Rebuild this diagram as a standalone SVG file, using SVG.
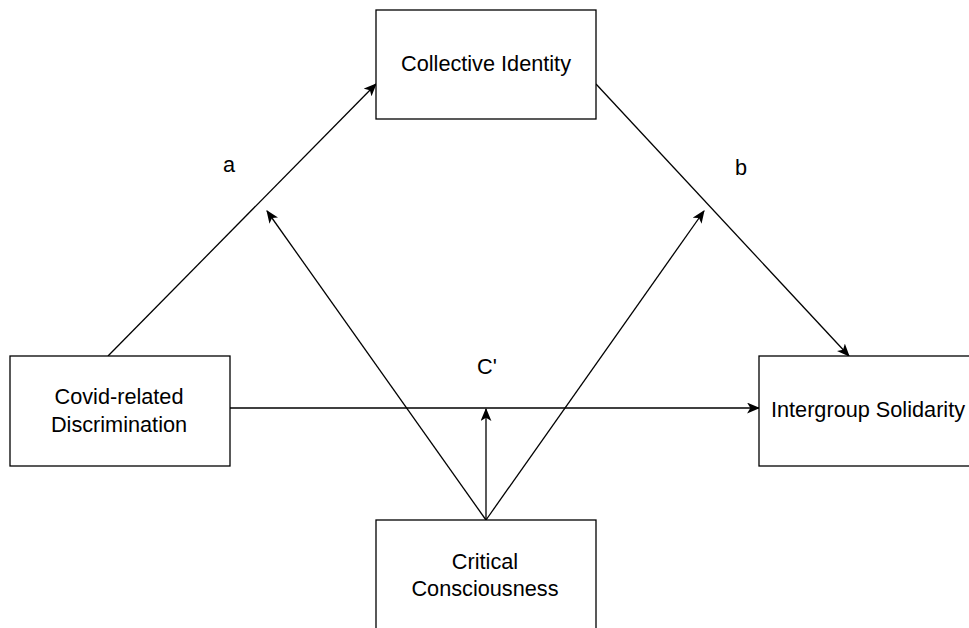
<svg xmlns="http://www.w3.org/2000/svg" width="969" height="628" viewBox="0 0 969 628">
<style>
.box{fill:#fff;stroke:#000;stroke-width:1.3}
.t{font-family:"Liberation Sans",Arial,sans-serif;font-size:21.7px;fill:#000;text-anchor:middle}
.c{stroke:#000;stroke-width:1.3;fill:none;marker-end:url(#ah)}
</style>
<defs>
<marker id="ah" viewBox="0 0 12 10" refX="11" refY="5" markerWidth="13" markerHeight="11" markerUnits="userSpaceOnUse" orient="auto">
<path d="M0,0 L12,5 L0,10 L3,5 Z" fill="#000"/>
</marker>
</defs>
<rect width="969" height="628" fill="#fff"/>
<g id="connectors">
<line class="c" x1="108" y1="356" x2="376" y2="84"/>
<line class="c" x1="596" y1="84" x2="849" y2="356"/>
<line class="c" x1="230" y1="408" x2="759" y2="408"/>
<line class="c" x1="486" y1="520" x2="486" y2="409"/>
<line class="c" x1="486" y1="520" x2="267" y2="211"/>
<line class="c" x1="486" y1="520" x2="704" y2="211"/>
</g>
<g id="collective">
<rect class="box" x="376" y="10" width="220" height="109"/>
<text class="t" x="486" y="71">Collective Identity</text>
</g>
<g id="covid">
<rect class="box" x="10" y="356" width="220" height="110"/>
<text class="t" x="119" y="404">Covid-related</text>
<text class="t" x="119" y="432">Discrimination</text>
</g>
<g id="intergroup">
<rect class="box" x="759" y="356" width="220" height="110"/>
<text class="t" x="868" y="417">Intergroup Solidarity</text>
</g>
<g id="critical">
<rect class="box" x="376" y="520" width="220" height="110"/>
<text class="t" x="485" y="569">Critical</text>
<text class="t" x="485" y="596">Consciousness</text>
</g>
<g id="labels">
<text class="t" x="229" y="172">a</text>
<text class="t" x="741" y="175">b</text>
<text class="t" x="487" y="374">C'</text>
</g>
</svg>
